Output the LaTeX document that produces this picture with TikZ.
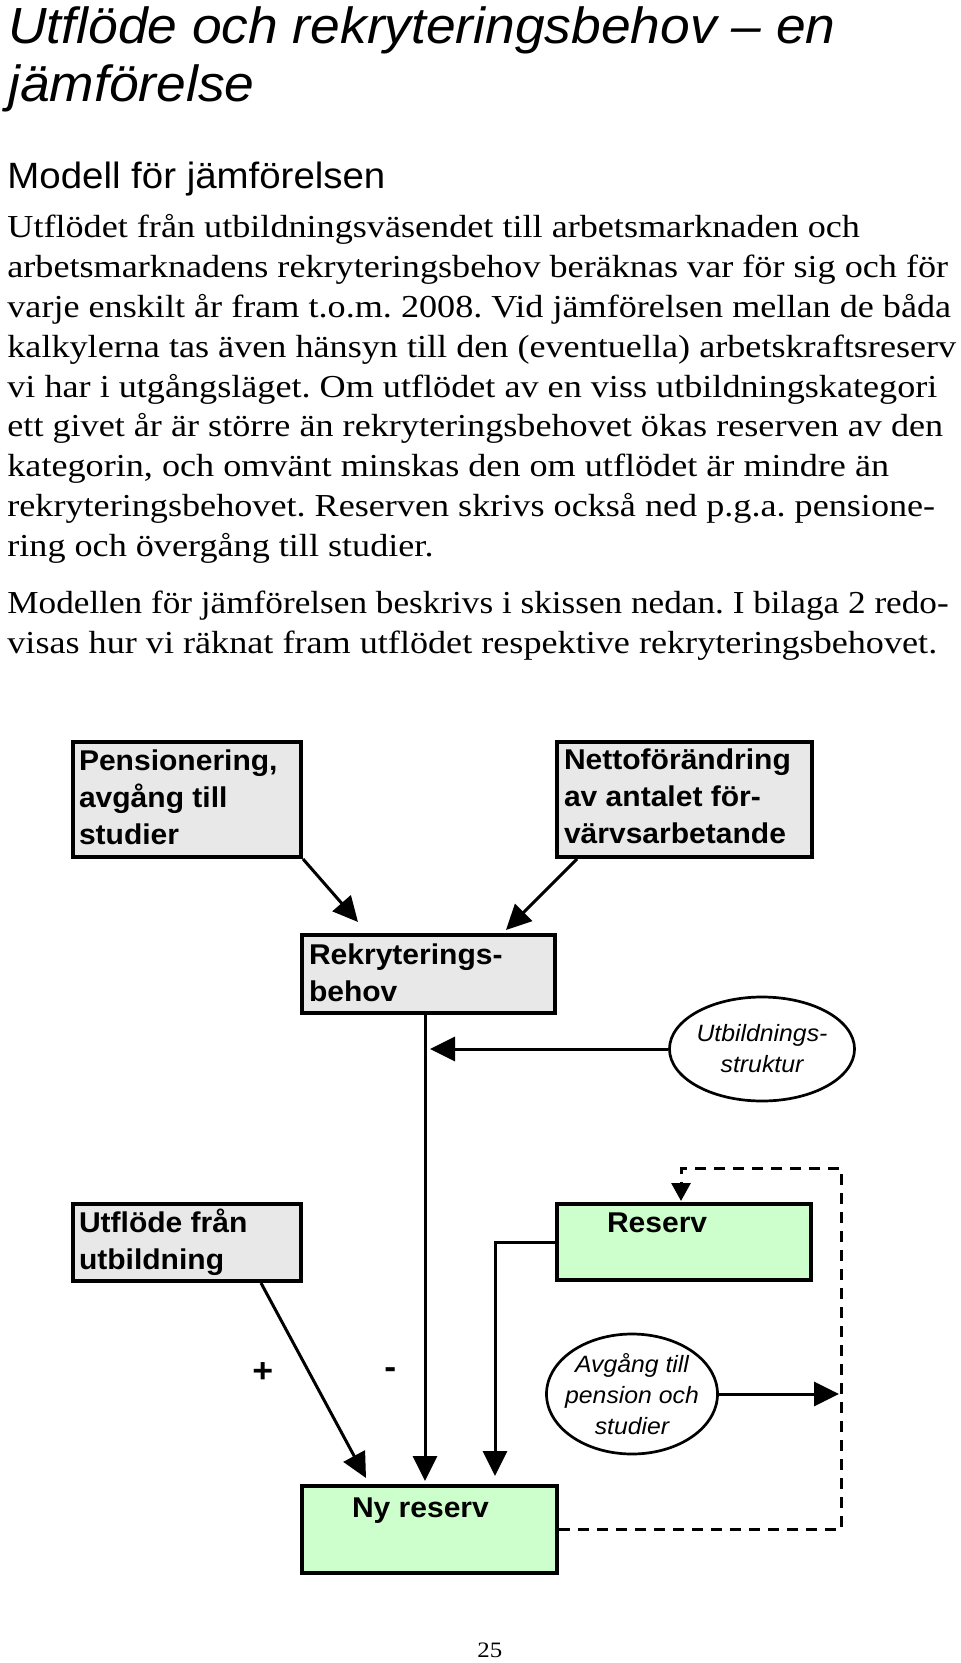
\documentclass[tikz,border=0pt]{standalone}
\usepackage{fontspec}
\setmainfont{Liberation Serif}[FakeStretch=1.13]
\newfontfamily\narrowserif{Liberation Serif}[FakeStretch=1.10]
\newfontfamily\hsans{Liberation Sans}[FakeStretch=1.05]
\usetikzlibrary{arrows.meta,shapes.geometric,calc}
\newlength{\px}\setlength{\px}{0.5pt}
\definecolor{boxgray}{RGB}{232,232,232}
\definecolor{resgreen}{RGB}{204,255,204}
% box text: width, height, left pad, first-baseline offset, text
\newcommand{\bxt}[5]{\parbox[c][#2\px][t]{#1\px}{\raggedright\setlength{\leftskip}{#3\px}\setlength{\baselineskip}{37\px}\rule{0pt}{#4\px}#5}}
\frenchspacing
\tikzset{
  graybox/.style={draw, line width=2pt, fill=boxgray, rectangle, inner sep=0pt, anchor=north west,
    font=\hsans\bfseries\fontsize{14.3}{18.5}\selectfont},
  greenbox/.style={graybox, fill=resgreen},
  oval/.style={draw, ellipse, line width=1.35pt, fill=white, inner sep=0pt, align=center,
    font=\hsans\itshape\fontsize{11.8}{15.5}\selectfont},
  conn/.style={line width=1.5pt, -{Triangle[length=12.5pt,width=12pt]}},
  fb/.style={line width=1.5pt, dash pattern=on 5.5pt off 4pt},
  txt/.style={inner sep=0pt, anchor=base west},
  sign/.style={txt, font=\hsans\bfseries\fontsize{17}{19}\selectfont},
}
\begin{document}
\begin{tikzpicture}[x=0.5pt, y=-0.5pt]
\useasboundingbox[fill=white] (0,0) rectangle (960,1663);

% heading texts
\node[txt] (title) at (8,44) {\parbox[t]{1000\px}{\raggedright\hsans\itshape\fontsize{25.4}{29}\selectfont
Utflöde och rekryteringsbehov – en\\jämförelse}};
\node[txt] (sub) at (7,189) {\hsans\fontsize{18.3}{20}\selectfont Modell för jämförelsen};

\node[txt] (para1) at (7,238) {\parbox[t]{1000\px}{\raggedright\fontsize{16}{19.9}\selectfont
Utflödet från utbildningsväsendet till arbetsmarknaden och\\
arbetsmarknadens rekryteringsbehov beräknas var för sig och för\\
varje enskilt år fram t.o.m. 2008. Vid jämförelsen mellan de båda\\
kalkylerna tas även hänsyn till den (eventuella) arbetskraftsreserv\\
vi har i utgångsläget. Om utflödet av en viss utbildningskategori\\
ett givet år är större än rekryteringsbehovet ökas reserven av den\\
kategorin, och omvänt minskas den om utflödet är mindre än\\
rekryteringsbehovet. Reserven skrivs också ned p.g.a. pensione-\\
ring och övergång till studier.}};

\node[txt] (para2) at (7,613) {\parbox[t]{1000\px}{\raggedright\fontsize{16}{20}\selectfont
{\narrowserif Modellen för jämförelsen beskrivs i skissen nedan. I bilaga 2 redo-}\\
visas hur vi räknat fram utflödet respektive rekryteringsbehovet.}};

% diagram nodes
\node[graybox] (pens) at (71,740) {\bxt{228}{115}{6}{28}{Pensionering,\\avgång till\\studier}};
\node[graybox] (netto) at (555,740) {\bxt{255}{115}{7}{27}{Nettoförändring\\av antalet för-\\värvsarbetande}};
\node[graybox] (rek) at (300,933) {\bxt{253}{78}{7}{29}{Rekryterings-\\behov}};
\node[oval, minimum width=182\px, minimum height=104\px] (utb) at (762,1049) {Utbildnings-\\struktur};
\node[graybox] (utfl) at (71,1202) {\bxt{228}{77}{6}{28}{Utflöde från\\utbildning}};
\node[greenbox] (res) at (555,1202) {\bxt{254}{76}{50}{28}{Reserv}};
\node[oval, minimum width=171\px, minimum height=120\px, inner xsep=-8pt] (avg) at (632,1394) {Avgång till\\pension och\\studier};
\node[greenbox] (ny) at (300,1484) {\bxt{255}{87}{50}{31}{Ny reserv}};

\node[sign] (plus) at (252,1382) {+};
\node[sign] (minus) at (384,1378) {-};

% connectors
\draw[conn] (pens.south east) -- ($(rek.north west)+(58,-11)$);
\draw[conn] ($(netto.south west)+(22,0)$) -- ($(rek.north east)+(-51,-3)$);
\draw[conn] ($(rek.south)+(-3.5,0)$) coordinate (v1) -- ($(v1 |- ny.north)+(0,-3)$);
\draw[conn] (utb.west) -- ($(utb.west -| v1)+(5,0)$);
\draw[conn] ($(utfl.south)+(74,0)$) -- ($(ny.north west)+(66,-6)$);
\draw[conn] (res.west) -| ($(ny.north west)+(195,-8)$);
\coordinate (dr) at (841,1168);
\draw[fb, -{Triangle[length=9pt,width=9.5pt]}] (ny.east) -| (dr) -| ($(res.north west)+(126,-1)$);
\draw[conn] (avg.east) -- ($(avg.east -| dr)+(-2,0)$);

% page number
\node[txt, font=\fontsize{11}{13}\selectfont] (pg) at (477,1657) {25};
\end{tikzpicture}
\end{document}
